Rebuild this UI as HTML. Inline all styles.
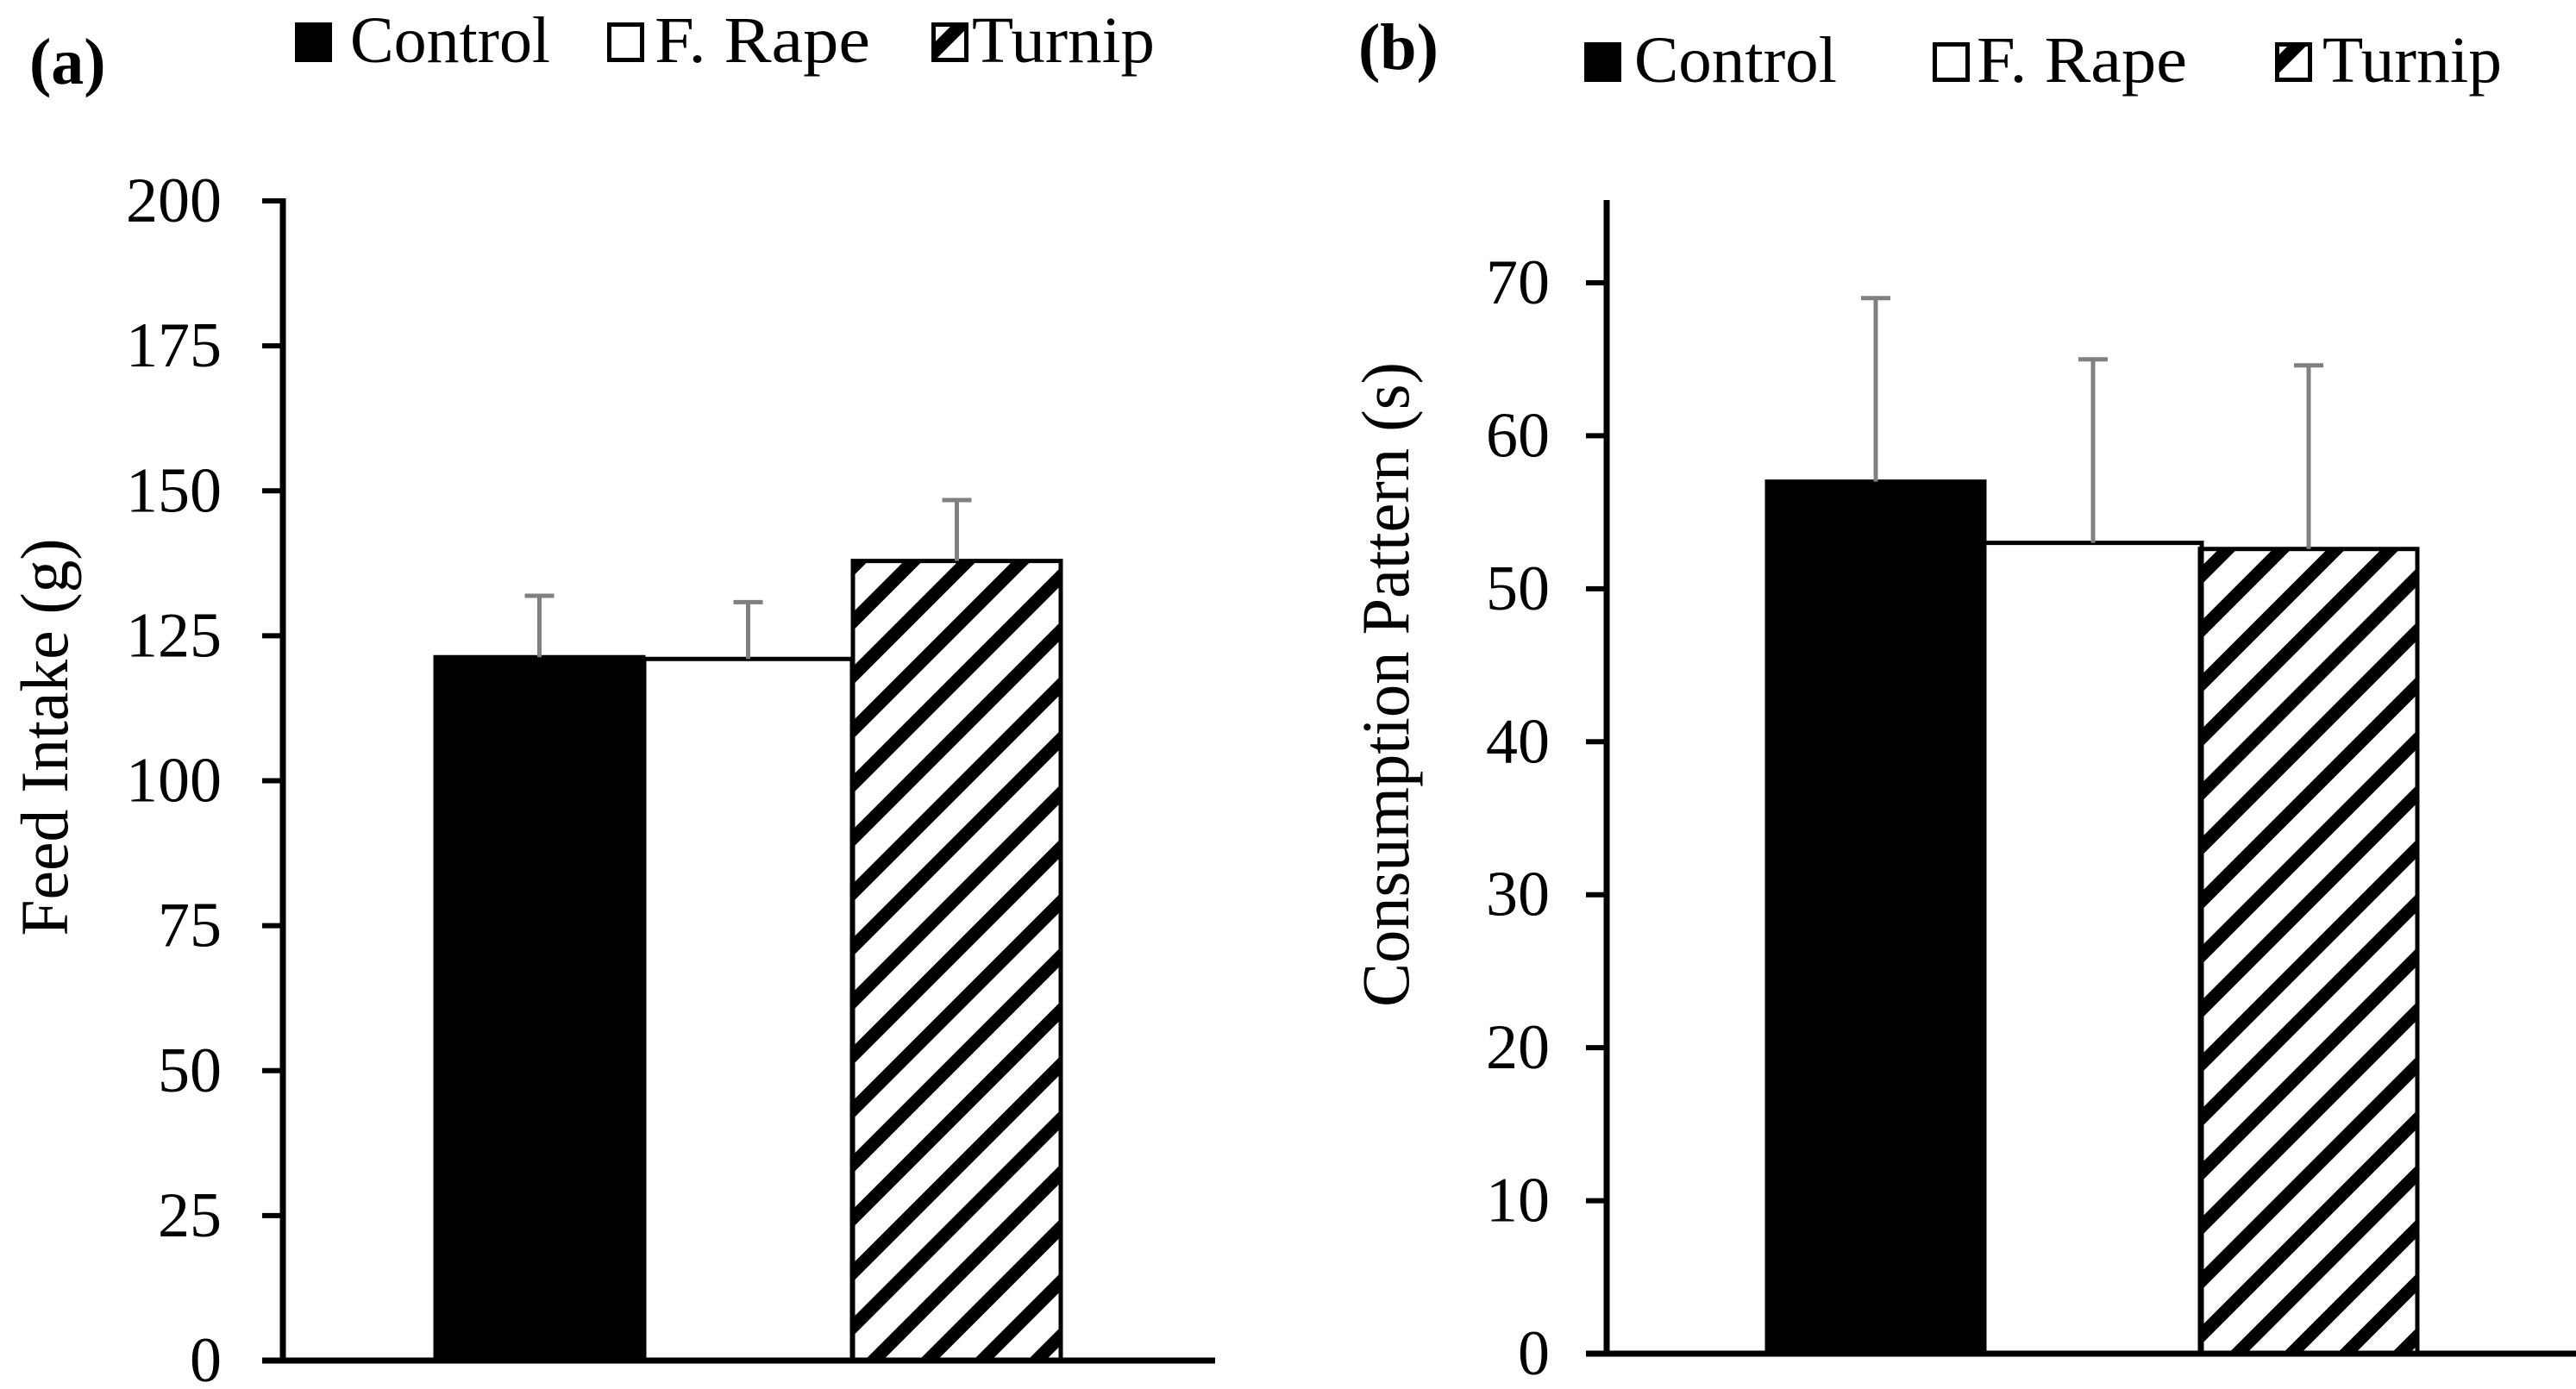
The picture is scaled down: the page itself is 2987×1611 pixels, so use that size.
<!DOCTYPE html>
<html><head><meta charset="utf-8"><style>
html,body{margin:0;padding:0;background:#fff;}
svg{display:block;font-family:"Liberation Serif",serif;}
</style></head><body>
<svg width="2987" height="1611" viewBox="0 0 2987 1611">
<defs>
<pattern id="hatch" patternUnits="userSpaceOnUse" width="44.5" height="44.5" patternTransform="rotate(45)">
<rect x="0" y="0" width="15" height="44.5" fill="#000"/>
</pattern>
</defs>
<g id="root"></g>
</svg>
<script>
const categories = ["Control", "F. Rape", "Turnip"];
const feedValues = [121.3, 121.0, 137.9];
const feedErrors = [10.6, 9.8, 10.5];
const feedTicks = [0, 25, 50, 75, 100, 125, 150, 175, 200];
const consValues = [57.0, 53.0, 52.6];
const consErrors = [12.0, 12.0, 12.0];
const consTicks = [0, 10, 20, 30, 40, 50, 60, 70];

const NS = "http://www.w3.org/2000/svg";
const root = document.getElementById("root");
function mk(tag, attrs, parent) {
  const e = document.createElementNS(NS, tag);
  for (const k in attrs) e.setAttribute(k, attrs[k]);
  (parent || root).appendChild(e);
  return e;
}
const fills = ["#000", "#fff", "url(#hatch)"];

function panel(cfg) {
  const g = mk("g", {});
  
  
  const y = v => cfg.y0 - v / cfg.max * (cfg.y0 - cfg.yMaxPix);
  cfg.values.forEach((v, i) => {
    const x0 = cfg.barX[i], w = cfg.barW;
    const r = mk("rect", {x: x0, y: y(v), width: w, height: cfg.y0 - y(v), fill: fills[i], stroke: "#000", "stroke-width": 5}, g);
    
    
    const cx = x0 + w / 2;
    const top = y(v + cfg.errors[i]);
    const eb = mk("path", {d: `M${cx},${y(v)}V${top}M${cx-17},${top}H${cx+17}`, stroke: "#808080", "stroke-width": 5, fill: "none"}, g);
    
    
  });
  const ya = mk("line", {x1: cfg.ax, x2: cfg.ax, y1: cfg.axTop, y2: cfg.y0, stroke: "#000", "stroke-width": 7}, g);
  
  
  const xa = mk("line", {x1: cfg.tickX, x2: cfg.axEnd, y1: cfg.y0, y2: cfg.y0, stroke: "#000", "stroke-width": 7}, g);
  
  
  cfg.ticks.forEach(t => {
    const tl = mk("line", {x1: cfg.tickX, x2: cfg.ax, y1: y(t), y2: y(t), stroke: "#000", "stroke-width": 6}, g);
    
    
    const tx = mk("text", {x: cfg.labelX, y: y(t) + 24, "text-anchor": "end", "font-size": 74}, g);
    tx.textContent = t;
    
    
  });
  const title = mk("text", {x: 0, y: 0, transform: `translate(${cfg.titleX},${cfg.titleY}) rotate(-90)`, "text-anchor": "middle", "font-size": 78, textLength: cfg.titleLen, lengthAdjust: "spacingAndGlyphs"}, g);
  title.textContent = cfg.title;
  
  
  const pl = mk("text", {x: cfg.plX, y: cfg.plY, "font-size": 76, "font-weight": "bold"}, g);
  pl.textContent = cfg.panelLabel;
  
  
  categories.forEach((c, i) => {
    const lg = mk("g", {}, g);
    
    
    mk("rect", {x: cfg.legSq[i] + 2.5, y: cfg.legY + 2.5, width: 38, height: 41, fill: fills[i], stroke: "#000", "stroke-width": 5}, lg);
    const t = mk("text", {x: cfg.legTx[i], y: cfg.legY + 46, "font-size": 76, textLength: cfg.legW[i], lengthAdjust: "spacingAndGlyphs"}, lg);
    t.textContent = c;
  });
}

panel({name: "chart-a-feed-intake", values: feedValues, errors: feedErrors, ticks: feedTicks, max: 200,
  y0: 1578, yMaxPix: 233, ax: 328, axTop: 230, axEnd: 1409, tickX: 304, labelX: 257,
  barX: [505, 747, 989], barW: 241, title: "Feed Intake (g)", titleLen: 461, titleX: 78, titleY: 855,
  panelLabel: "(a)", plX: 34, plY: 97,
  legSq: [342, 704, 1080], legTx: [406, 759, 1127], legW: [232, 250, 212], legY: 26});

panel({name: "chart-b-consumption-pattern", values: consValues, errors: consErrors, ticks: consTicks, max: 70,
  y0: 1570, yMaxPix: 328, ax: 1863, axTop: 232, axEnd: 2987, tickX: 1839, labelX: 1797,
  barX: [2049, 2301, 2551], barW: 252, title: "Consumption Pattern (s)", titleLen: 748, titleX: 1633, titleY: 794,
  panelLabel: "(b)", plX: 1575, plY: 80,
  legSq: [1837, 2241, 2638], legTx: [1895, 2292, 2693], legW: [235, 244, 208], legY: 49});
</script>
</body></html>
